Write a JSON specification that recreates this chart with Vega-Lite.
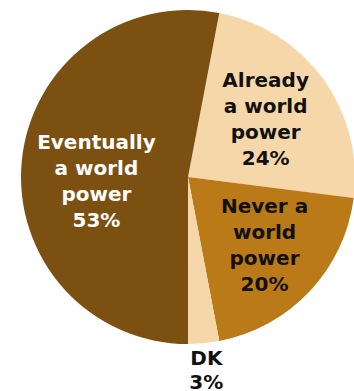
{
  "$schema": "https://vega.github.io/schema/vega-lite/v6.json",
  "width": 334,
  "height": 334,
  "autosize": "none",
  "padding": {"left": 21, "top": 10, "right": 0, "bottom": 47},
  "background": "white",
  "view": {"stroke": null},
  "data": {
    "values": [
      {"cat": "Already", "idx": 1, "value": 24, "label": "Already\na world\npower\n24%"},
      {"cat": "Never", "idx": 2, "value": 20, "label": "Never a\nworld\npower\n20%"},
      {"cat": "DK", "idx": 3, "value": 3, "label": "DK\n3%"},
      {"cat": "Eventually", "idx": 4, "value": 53, "label": "Eventually\na world\npower\n53%"}
    ]
  },
  "encoding": {
    "theta": {"field": "value", "type": "quantitative", "stack": true, "scale": {"range": [0.1885, 6.4717]}},
    "order": {"field": "idx", "type": "quantitative"}
  },
  "layer": [
    {
      "mark": {"type": "arc", "radius": 167, "stroke": null},
      "encoding": {
        "color": {
          "field": "cat", "type": "nominal", "legend": null,
          "scale": {"domain": ["Already", "Never", "DK", "Eventually"], "range": ["#F6D7A9", "#BB7A18", "#F6D7A9", "#7B5011"]}
        }
      }
    },
    {
      "mark": {"type": "text", "font": "DejaVu Sans", "fontWeight": "bold", "fontSize": 20, "lineHeight": 26, "lineBreak": "\n", "align": "center", "baseline": "middle", "color": "#111111", "radius": 96, "dy": -40},
      "encoding": {
        "text": {"condition": {"test": "datum.cat !== 'Already'", "value": ""}, "field": "label", "type": "nominal"}
      }
    },
    {
      "mark": {"type": "text", "font": "DejaVu Sans", "fontWeight": "bold", "fontSize": 20, "lineHeight": 26, "lineBreak": "\n", "align": "center", "baseline": "middle", "color": "#111111", "radius": 105, "dy": -42},
      "encoding": {
        "text": {"condition": {"test": "datum.cat !== 'Never'", "value": ""}, "field": "label", "type": "nominal"}
      }
    },
    {
      "mark": {"type": "text", "font": "DejaVu Sans", "fontWeight": "bold", "fontSize": 20, "lineHeight": 24, "lineBreak": "\n", "align": "center", "baseline": "middle", "color": "#111111", "radius": 195, "dy": -12},
      "encoding": {
        "text": {"condition": {"test": "datum.cat !== 'DK'", "value": ""}, "field": "label", "type": "nominal"}
      }
    },
    {
      "mark": {"type": "text", "font": "DejaVu Sans", "fontWeight": "bold", "fontSize": 20, "lineHeight": 26, "lineBreak": "\n", "align": "center", "baseline": "middle", "color": "white", "radius": 92, "dy": -25},
      "encoding": {
        "text": {"condition": {"test": "datum.cat !== 'Eventually'", "value": ""}, "field": "label", "type": "nominal"}
      }
    }
  ]
}
